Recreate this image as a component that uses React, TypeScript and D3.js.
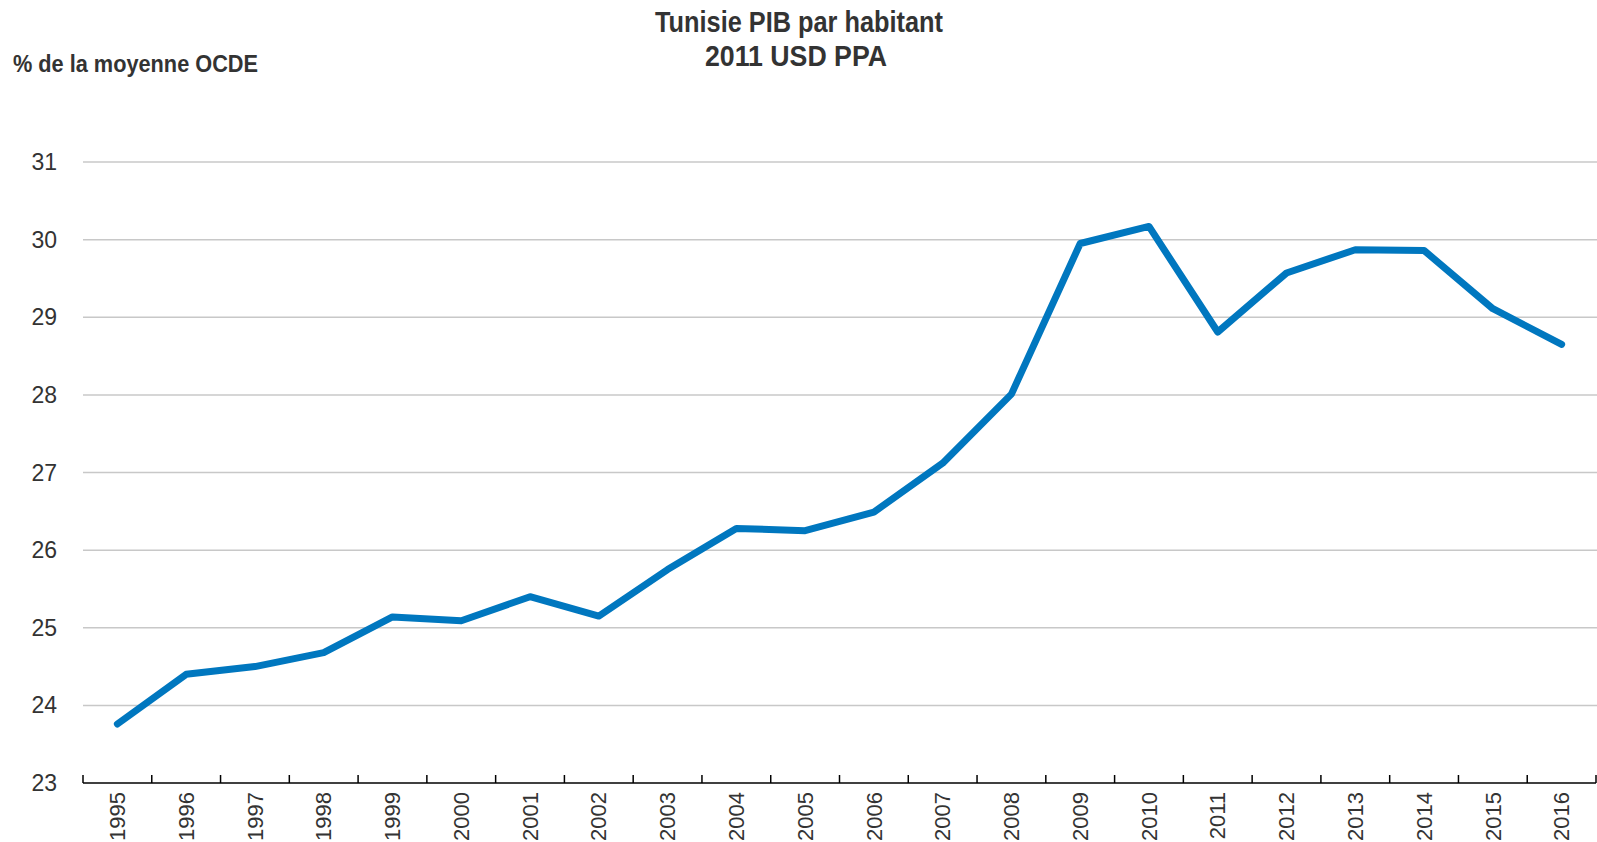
import React from 'react';
import { scaleBand, scaleLinear, line } from 'd3';

const years = ['1995', '1996', '1997', '1998', '1999', '2000', '2001', '2002', '2003', '2004', '2005',
  '2006', '2007', '2008', '2009', '2010', '2011', '2012', '2013', '2014', '2015', '2016'];
const values = [23.76, 24.4, 24.5, 24.68, 25.14, 25.09, 25.4, 25.15, 25.75, 26.28, 26.25,
  26.49, 27.12, 28.01, 29.95, 30.17, 28.81, 29.57, 29.87, 29.86, 29.11, 28.65];
const yTicks = [23, 24, 25, 26, 27, 28, 29, 30, 31];

const width = 1597;
const height = 842;
const margin = { top: 162, right: 1, bottom: 59, left: 83 };
const narrow = '"Liberation Sans Narrow", "Arial Narrow", "Liberation Sans", sans-serif';
const regular = '"Liberation Sans", Arial, sans-serif';

const App = () => {
  const x = scaleBand()
    .domain(years)
    .range([margin.left, width - margin.right]);

  const y = scaleLinear()
    .domain([23, 31])
    .range([height - margin.bottom, margin.top]);

  const path = line<number>()
    .x((d, i) => (x(years[i]) as number) + x.bandwidth() / 2)
    .y((d) => y(d));

  const bottom = y(23);
  const edges = years.map((yr) => x(yr) as number).concat([width - margin.right]);

  return (
    <svg width={width} height={height} style={{ position: 'absolute', left: 0, top: 0 }}>
      <rect width={width} height={height} fill="#fff" />
      <text x={799} y={32} textAnchor="middle" fontFamily={narrow} fontWeight="bold" fontSize={29} fill="#333"
        textLength={288} lengthAdjust="spacingAndGlyphs">
        Tunisie PIB par habitant
      </text>
      <text x={796} y={66} textAnchor="middle" fontFamily={narrow} fontWeight="bold" fontSize={29} fill="#333"
        textLength={182} lengthAdjust="spacingAndGlyphs">
        2011 USD PPA
      </text>
      <text x={13} y={72} fontFamily={narrow} fontWeight="bold" fontSize={24} fill="#333"
        textLength={245} lengthAdjust="spacingAndGlyphs">
        % de la moyenne OCDE
      </text>

      {yTicks.filter((t) => t !== 23).map((t) => (
        <line key={t} x1={margin.left} x2={width} y1={y(t)} y2={y(t)} stroke="#c8c8c8" strokeWidth={1.5} />
      ))}
      {yTicks.map((t) => (
        <text key={t} x={57} y={y(t)} dy="0.35em" textAnchor="end" fontFamily={regular} fontSize={23} fill="#333">
          {t}
        </text>
      ))}

      <line x1={margin.left} x2={width - margin.right} y1={bottom} y2={bottom} stroke="#000" strokeWidth={1.5} />
      {edges.map((e, i) => (
        <line key={i} x1={e} x2={e} y1={bottom} y2={bottom - 8} stroke="#000" strokeWidth={1.5} />
      ))}
      {years.map((yr) => {
        const cx = (x(yr) as number) + x.bandwidth() / 2;
        return (
          <text key={yr} transform={`translate(${cx},${bottom + 9}) rotate(-90)`} dy="0.35em"
            textAnchor="end" fontFamily={regular} fontSize={22} fill="#333">
            {yr}
          </text>
        );
      })}

      <path d={path(values) as string} fill="none" stroke="#0077bf" strokeWidth={7}
        strokeLinejoin="round" strokeLinecap="round" />
    </svg>
  );
};

export default App;
